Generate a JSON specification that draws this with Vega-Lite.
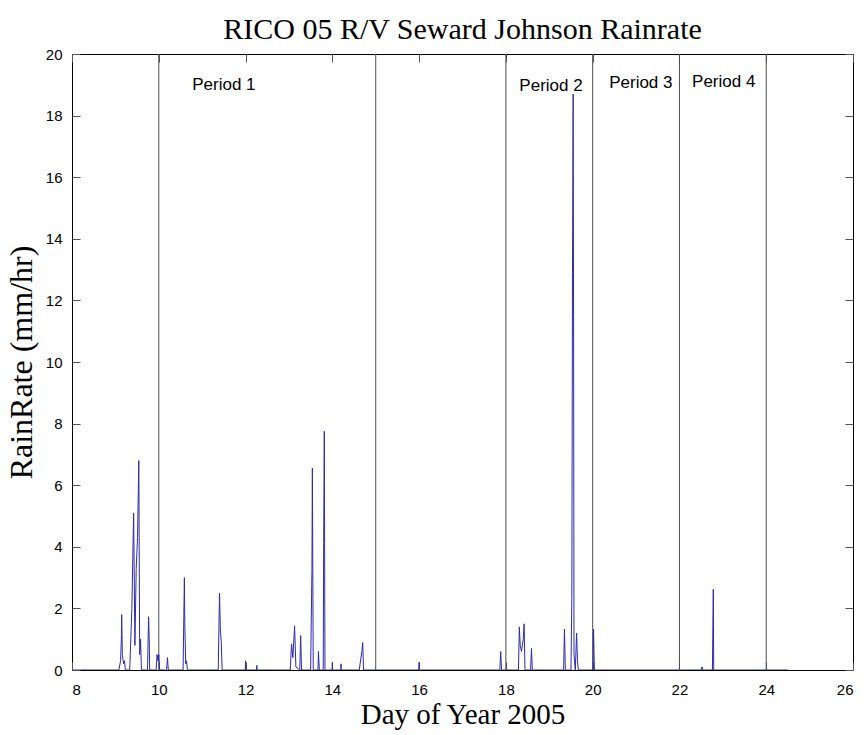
{
  "$schema": "https://vega.github.io/schema/vega-lite/v6.json",
  "width": 781,
  "height": 616,
  "autosize": "none",
  "padding": {"left": 72, "top": 54, "right": 14, "bottom": 65},
  "background": "white",
  "title": {"text": "RICO 05 R/V Seward Johnson Rainrate", "font": "Liberation Serif", "fontSize": 30, "fontWeight": "normal", "color": "black", "anchor": "middle", "offset": 2},
  "config": {
    "view": {"stroke": "black", "strokeWidth": 1},
    "axis": {"grid": false, "domainColor": "black", "tickColor": "#555555", "labelColor": "black", "labelFont": "Liberation Sans", "labelFontSize": 15, "titleFont": "Liberation Serif", "titleFontWeight": "normal", "titleColor": "black", "tickSize": -8, "tickWidth": 1}
  },
  "datasets": {
    "rain": [
      {"day": 8.0, "rate": 0}, {"day": 9.08, "rate": 0}, {"day": 9.12, "rate": 0.3}, {"day": 9.14, "rate": 1.15}, {"day": 9.145, "rate": 1.8}, {"day": 9.16, "rate": 0.5}, {"day": 9.19, "rate": 0.2}, {"day": 9.21, "rate": 0.3}, {"day": 9.23, "rate": 0},
      {"day": 9.33, "rate": 0}, {"day": 9.38, "rate": 2.0}, {"day": 9.42, "rate": 5.1}, {"day": 9.45, "rate": 0.8}, {"day": 9.48, "rate": 3.3}, {"day": 9.51, "rate": 4.3}, {"day": 9.54, "rate": 6.8}, {"day": 9.56, "rate": 0.5}, {"day": 9.58, "rate": 1.0}, {"day": 9.60, "rate": 0},
      {"day": 9.74, "rate": 0}, {"day": 9.765, "rate": 1.73}, {"day": 9.78, "rate": 1.0}, {"day": 9.79, "rate": 0},
      {"day": 9.94, "rate": 0}, {"day": 9.96, "rate": 0.5}, {"day": 9.98, "rate": 0.3}, {"day": 10.0, "rate": 0.5}, {"day": 10.02, "rate": 0},
      {"day": 10.18, "rate": 0}, {"day": 10.2, "rate": 0.4}, {"day": 10.22, "rate": 0},
      {"day": 10.56, "rate": 0}, {"day": 10.59, "rate": 3.0}, {"day": 10.6, "rate": 1.5}, {"day": 10.62, "rate": 0.2}, {"day": 10.64, "rate": 0.3}, {"day": 10.66, "rate": 0},
      {"day": 11.37, "rate": 0}, {"day": 11.4, "rate": 2.5}, {"day": 11.42, "rate": 1.3}, {"day": 11.44, "rate": 0.9}, {"day": 11.46, "rate": 0},
      {"day": 11.995, "rate": 0}, {"day": 12.0, "rate": 0.3}, {"day": 12.005, "rate": 0},
      {"day": 12.255, "rate": 0}, {"day": 12.26, "rate": 0.15}, {"day": 12.265, "rate": 0},
      {"day": 13.03, "rate": 0}, {"day": 13.06, "rate": 0.85}, {"day": 13.09, "rate": 0.4}, {"day": 13.13, "rate": 1.43}, {"day": 13.16, "rate": 0.1}, {"day": 13.25, "rate": 0}, {"day": 13.27, "rate": 1.12}, {"day": 13.29, "rate": 0},
      {"day": 13.5, "rate": 0}, {"day": 13.53, "rate": 3.3}, {"day": 13.54, "rate": 6.55}, {"day": 13.56, "rate": 0},
      {"day": 13.67, "rate": 0}, {"day": 13.68, "rate": 0.6}, {"day": 13.7, "rate": 0},
      {"day": 13.79, "rate": 0}, {"day": 13.8, "rate": 4.1}, {"day": 13.815, "rate": 7.75}, {"day": 13.83, "rate": 0},
      {"day": 13.995, "rate": 0}, {"day": 14.0, "rate": 0.25}, {"day": 14.005, "rate": 0},
      {"day": 14.195, "rate": 0}, {"day": 14.2, "rate": 0.2}, {"day": 14.205, "rate": 0},
      {"day": 14.62, "rate": 0}, {"day": 14.68, "rate": 0.6}, {"day": 14.7, "rate": 0.89}, {"day": 14.72, "rate": 0},
      {"day": 15.995, "rate": 0}, {"day": 16.0, "rate": 0.25}, {"day": 16.005, "rate": 0},
      {"day": 17.86, "rate": 0}, {"day": 17.88, "rate": 0.6}, {"day": 17.9, "rate": 0},
      {"day": 18.29, "rate": 0}, {"day": 18.31, "rate": 1.4}, {"day": 18.33, "rate": 0.8}, {"day": 18.36, "rate": 0.6}, {"day": 18.4, "rate": 1.0}, {"day": 18.42, "rate": 1.5}, {"day": 18.44, "rate": 0},
      {"day": 18.57, "rate": 0}, {"day": 18.59, "rate": 0.7}, {"day": 18.61, "rate": 0},
      {"day": 19.33, "rate": 0}, {"day": 19.35, "rate": 1.33}, {"day": 19.37, "rate": 0},
      {"day": 19.5, "rate": 0}, {"day": 19.52, "rate": 2.3}, {"day": 19.535, "rate": 12.9}, {"day": 19.55, "rate": 18.7}, {"day": 19.56, "rate": 11.5}, {"day": 19.57, "rate": 0.5}, {"day": 19.6, "rate": 0}, {"day": 19.63, "rate": 1.2}, {"day": 19.65, "rate": 0.3}, {"day": 19.67, "rate": 0},
      {"day": 20.01, "rate": 0}, {"day": 20.02, "rate": 1.33}, {"day": 20.04, "rate": 0},
      {"day": 22.5, "rate": 0}, {"day": 22.52, "rate": 0.1}, {"day": 22.54, "rate": 0},
      {"day": 22.76, "rate": 0}, {"day": 22.77, "rate": 1.33}, {"day": 22.78, "rate": 2.62}, {"day": 22.79, "rate": 0},
      {"day": 24.5, "rate": 0}
    ],
    "bounds": [{"day": 10}, {"day": 15}, {"day": 18}, {"day": 20}, {"day": 22}, {"day": 24}],
    "periods": [
      {"day": 11.5, "rate": 19.0, "label": "Period 1"},
      {"day": 19.04, "rate": 18.95, "label": "Period 2"},
      {"day": 21.11, "rate": 19.05, "label": "Period 3"},
      {"day": 23.02, "rate": 19.1, "label": "Period 4"}
    ]
  },
  "resolve": {"axis": {"x": "independent", "y": "independent"}},
  "layer": [
    {
      "data": {"name": "bounds"},
      "mark": {"type": "rule", "color": "#4d4d4d", "strokeWidth": 1},
      "encoding": {
        "x": {"field": "day", "type": "quantitative", "scale": {"domain": [8, 26], "nice": false, "zero": false}, "axis": null}
      }
    },
    {
      "data": {"name": "rain"},
      "mark": {"type": "line", "color": "#2b2bb0", "strokeWidth": 1, "clip": true},
      "encoding": {
        "x": {"field": "day", "type": "quantitative", "scale": {"domain": [8, 26], "nice": false, "zero": false}, "axis": {"title": "Day of Year 2005", "titleFontSize": 29, "values": [8, 10, 12, 14, 16, 18, 20, 22, 24, 26], "labelPadding": 20, "titlePadding": 3, "domain": false}},
        "y": {"field": "rate", "type": "quantitative", "scale": {"domain": [0, 20], "nice": false}, "axis": {"title": "RainRate (mm/hr)", "titleFontSize": 32, "values": [0, 2, 4, 6, 8, 10, 12, 14, 16, 18, 20], "labelPadding": 18, "titlePadding": 7, "domain": false}}
      }
    },
    {
      "data": {"name": "periods"},
      "mark": {"type": "text", "font": "Liberation Sans", "fontSize": 17, "color": "black", "align": "center", "baseline": "middle"},
      "encoding": {
        "x": {"field": "day", "type": "quantitative", "scale": {"domain": [8, 26], "nice": false, "zero": false}, "axis": {"orient": "top", "title": null, "labels": false, "domain": false, "values": [8, 10, 12, 14, 16, 18, 20, 22, 24, 26]}},
        "y": {"field": "rate", "type": "quantitative", "scale": {"domain": [0, 20], "nice": false}, "axis": {"orient": "right", "title": null, "labels": false, "domain": false, "values": [0, 2, 4, 6, 8, 10, 12, 14, 16, 18, 20]}},
        "text": {"field": "label"}
      }
    }
  ]
}
